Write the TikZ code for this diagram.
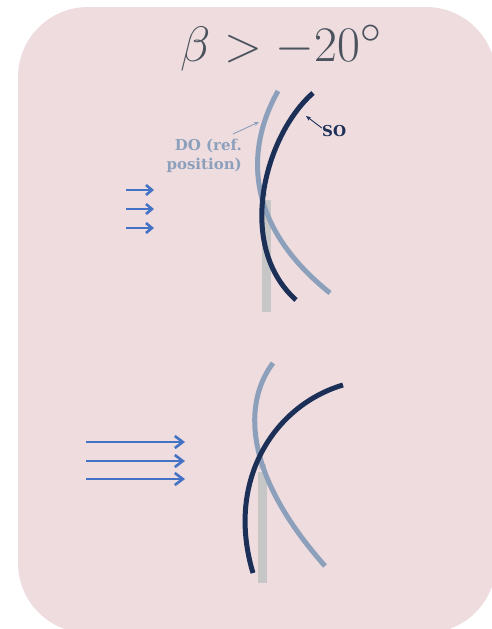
\documentclass[tikz,border=0pt]{standalone}
\usepackage{fontspec}
\newfontfamily\labelfont{DejaVu Serif}
\usetikzlibrary{arrows.meta}
\definecolor{panelbg}{HTML}{EEDCDF}
\definecolor{docol}{HTML}{8CA0BC}
\definecolor{socol}{HTML}{1B2F57}
\definecolor{barcol}{HTML}{C6C6C6}
\definecolor{flowcol}{HTML}{4472C4}
\definecolor{titlecol}{HTML}{4A525C}
\tikzset{
  panel/.style={fill=panelbg, rounded corners=70pt},
  stem/.style={draw=barcol, line width=9pt},
  docurve/.style={draw=docol, line width=5pt},
  socurve/.style={draw=socol, line width=5pt},
  flow/.style={draw=flowcol, line width=2.6pt, -{Straight Barb[length=6pt,width=10pt,line width=2.6pt]}},
  bigflow/.style={draw=flowcol, line width=2.6pt, -{Straight Barb[length=8pt,width=12pt,line width=2.6pt]}},
  lbl/.style={font=\labelfont\bfseries\fontsize{15}{19}\selectfont, inner sep=0pt},
  pointer/.style={line width=0.9pt, -{Stealth[length=5pt,width=4pt]}}
}
\begin{document}
\begin{tikzpicture}[x=1pt, y=-1pt]
  \useasboundingbox (0,0) rectangle (492,629);
  \clip (0,0) rectangle (492,629);
  % background panel
  \fill[panel] (18,7) rectangle (496,633);

  % title
  \node[text=titlecol, font=\Huge, scale=2, inner sep=0pt] (title) at (281,48) {$\beta > -20^\circ$};

  % ---- upper sketch ----
  \draw[stem] (266,200) -- (266,312);
  \fill[barcol] (266,195) circle (1.5pt);
  \draw[docurve] (278,91) .. controls (245,150) and (245,225) .. (330,293);
  \draw[socurve] (313,93) .. controls (265,135) and (235,245) .. (296,300);

  \node[lbl, text=docol, align=right, anchor=east] (dolabel) at (242,156) {DO (ref.\\position)};
  \node[lbl, text=socol, anchor=west] (solabel) at (322,131) {SO};
  \coordinate (dotip) at (259,122);
  \coordinate (sotip) at (306,116);
  \draw[pointer, docol] (233,134) -- (dotip);
  \draw[pointer, socol] (solabel.north west) ++(0,3) -- (sotip);

  \foreach \yy/\nm in {190/a, 209/b, 228/c} {
    \coordinate (fs\nm) at (126,\yy);
    \coordinate (fe\nm) at (154,\yy);
    \draw[flow] (fs\nm) -- (fe\nm);
  }

  % ---- lower sketch ----
  \draw[stem] (262,472) -- (262,583);
  \draw[barcol, line width=7pt] (262,464) -- (262,469);
  \draw[docurve] (273,363) .. controls (245,400) and (240,470) .. (325,566);
  \draw[socurve] (343,385) .. controls (275,405) and (225,480) .. (253,573);

  \foreach \yy/\nm in {442/a, 461/b, 479/c} {
    \coordinate (gs\nm) at (86,\yy);
    \coordinate (ge\nm) at (185,\yy);
    \draw[bigflow] (gs\nm) -- (ge\nm);
  }
\end{tikzpicture}
\end{document}
